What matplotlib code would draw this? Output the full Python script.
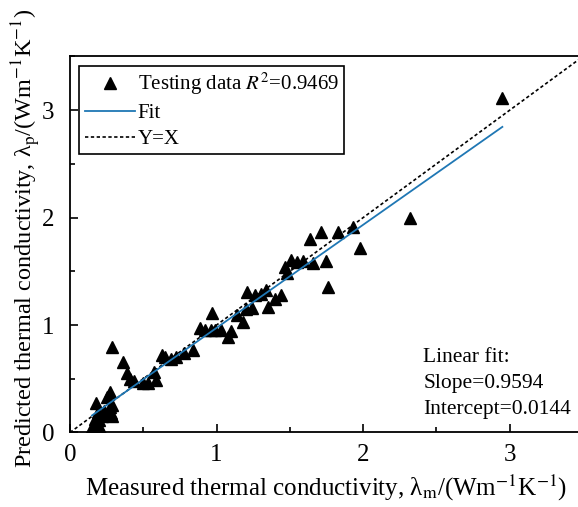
import matplotlib
matplotlib.use("Agg")
import matplotlib.pyplot as plt
import numpy as np
from matplotlib.ticker import MultipleLocator

plt.rcParams['font.family'] = ['Liberation Serif', 'DejaVu Serif']
plt.rcParams['mathtext.fontset'] = 'stix'

measured = [0.15, 0.16, 0.17, 0.18, 0.19, 0.20, 0.20, 0.21, 0.22, 0.23, 0.25, 0.27, 0.27, 0.28, 0.29, 0.29,
            0.29, 0.36, 0.39, 0.41, 0.44, 0.50, 0.53, 0.57, 0.59,
            0.63, 0.65, 0.69, 0.72, 0.78, 0.84, 0.89, 0.92, 0.96, 0.97, 0.99, 1.03, 1.08, 1.10, 1.14, 1.18,
            1.20, 1.21, 1.24, 1.26, 1.30, 1.34, 1.35, 1.40, 1.44, 1.47, 1.48, 1.51, 1.55, 1.59, 1.64, 1.66,
            1.71, 1.75, 1.76, 1.83, 1.93, 1.98, 2.32, 2.95]
predicted = [0.05, 0.02, 0.13, 0.27, 0.19, 0.05, 0.12, 0.02, 0.15, 0.20, 0.33, 0.38, 0.24, 0.18, 0.15, 0.26,
             0.80, 0.66, 0.55, 0.50, 0.48, 0.46, 0.46, 0.56, 0.49,
             0.72, 0.70, 0.68, 0.70, 0.74, 0.77, 0.97, 0.95, 0.95, 1.11, 0.95, 0.95, 0.89, 0.94, 1.09, 1.03,
             1.15, 1.31, 1.16, 1.28, 1.29, 1.33, 1.17, 1.24, 1.28, 1.54, 1.48, 1.61, 1.59, 1.60, 1.80, 1.58,
             1.87, 1.60, 1.35, 1.87, 1.91, 1.72, 2.00, 3.11]

slope = 0.9594
intercept = 0.0144
r2 = 0.9469
fit_range = [0.15, 2.95]
diag_range = [0, 3.5]

fig = plt.figure(figsize=(5.78, 5.07), dpi=100)
ax = fig.add_axes([0.1211, 0.147, 0.8875, 0.7416])

ax.plot(measured, predicted, linestyle='none', marker='^', color='black', markersize=8,
        label=r'Testing data $R^2$=%.4f' % r2, zorder=3)
fx = np.array(fit_range)
ax.plot(fx, slope * fx + intercept, color='#1f77b4', lw=1.3, label='Fit', zorder=4)
ax.plot(diag_range, diag_range, color='black', lw=1.2, linestyle=(0, (2, 1.5)), label='Y=X', zorder=2)

ax.set_xlim(0, 3.5)
ax.set_ylim(0, 3.5)
ax.xaxis.set_major_locator(MultipleLocator(1))
ax.xaxis.set_minor_locator(MultipleLocator(0.5))
ax.yaxis.set_major_locator(MultipleLocator(1))
ax.yaxis.set_minor_locator(MultipleLocator(0.5))
ax.tick_params(which='major', direction='in', length=6, width=1.2, labelsize=18)
ax.tick_params(axis='x', which='major', pad=8)
ax.tick_params(axis='y', which='major', pad=11)
ax.tick_params(which='minor', direction='in', length=3.5, width=1.2)
for s in ax.spines.values():
    s.set_linewidth(1.3)

ax.set_xlabel('Measured thermal conductivity, λ$_\\mathrm{m}$/(Wm$^{\\mathrm{-1}}$K$^{\\mathrm{-1}}$)', fontsize=18, labelpad=5)
ax.set_ylabel('Predicted thermal conductivity, λ$_\\mathrm{p}$/(Wm$^{\\mathrm{-1}}$K$^{\\mathrm{-1}}$)', fontsize=17.5)
ax.yaxis.set_label_coords(-0.052, 0.517)

leg = ax.legend(loc='upper left', fontsize=15, frameon=True, fancybox=False, edgecolor='black',
                handlelength=2.4, handletextpad=0.15, borderpad=0.25, labelspacing=0.3,
                borderaxespad=0.45, framealpha=1)
leg.get_frame().set_linewidth(1.2)

ax.text(2.41, 0.79, 'Linear fit:\nSlope=%.4f\nIntercept=%.4f' % (slope, intercept),
        fontsize=15.5, va='top', ha='left', linespacing=1.5)

fig.savefig('out.png', dpi=100)
